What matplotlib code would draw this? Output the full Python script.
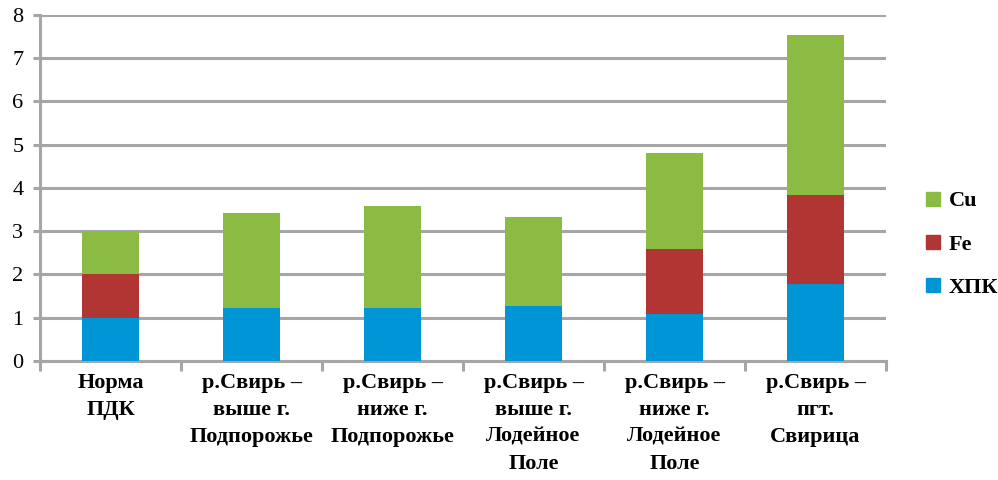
import numpy as np
import matplotlib
matplotlib.use('Agg')
import matplotlib.pyplot as plt
import matplotlib.font_manager as fm
from matplotlib.patches import Patch


def serif_file(weight):
    for f in fm.fontManager.ttflist:
        if f.name == 'Liberation Serif' and f.style == 'normal' and f.weight == weight:
            return f.fname
    return None


reg_path = serif_file(400)
bold_path = serif_file(700)

categories = ['Норма\nПДК',
              'р.Свирь –\nвыше г.\nПодпорожье',
              'р.Свирь –\nниже г.\nПодпорожье',
              'р.Свирь –\nвыше г.\nЛодейное\nПоле',
              'р.Свирь –\nниже г.\nЛодейное\nПоле',
              'р.Свирь –\nпгт.\nСвирица']
hpk = [1.0, 1.22, 1.22, 1.27, 1.09, 1.78]
fe = [1.0, 0.0, 0.0, 0.0, 1.50, 2.06]
cu = [1.0, 2.20, 2.36, 2.06, 2.22, 3.70]

c_hpk = '#0096D6'
c_fe = '#B03533'
c_cu = '#8BBB42'
grid_c = '#A6A6A6'

fp_tick = fm.FontProperties(fname=reg_path, size=16)
fp_cat = fm.FontProperties(fname=bold_path, size=16)
fp_leg = fm.FontProperties(fname=bold_path, size=16)

fig = plt.figure(figsize=(9.98, 4.8), dpi=100)
ax = fig.add_axes([0.0401, 0.248, 0.8477, 0.721])

x = np.arange(len(categories))
w = 0.40
ax.bar(x, hpk, w, color=c_hpk, zorder=3)
ax.bar(x, fe, w, bottom=hpk, color=c_fe, zorder=3)
bottom2 = np.array(hpk) + np.array(fe)
ax.bar(x, cu, w, bottom=bottom2, color=c_cu, zorder=3)

ax.set_xlim(-0.5, len(categories) - 0.5)
ax.set_ylim(0, 8)
ax.set_yticks(range(0, 9))
ax.set_yticklabels([str(v) for v in range(0, 9)], fontproperties=fp_tick)
ax.yaxis.grid(True, color=grid_c, linewidth=2.2, zorder=0)

for s in ['top', 'right']:
    ax.spines[s].set_visible(False)
for s in ['left', 'bottom']:
    ax.spines[s].set_color(grid_c)
    ax.spines[s].set_linewidth(2.2)

ax.tick_params(axis='y', colors=grid_c, length=5, width=2.2, labelcolor='black', pad=7)

# category boundary ticks on x, labels in the middle
ax.set_xticks(np.arange(-0.5, len(categories)), minor=False)
ax.set_xticklabels([])
ax.set_xticks(x, minor=True)
ax.set_xticklabels(categories, minor=True, fontproperties=fp_cat, linespacing=1.45)
ax.tick_params(axis='x', which='major', colors=grid_c, length=7, width=2.2)
ax.tick_params(axis='x', which='minor', length=0, pad=9, labelcolor='black')

handles = [Patch(color=c_cu, label='Cu'),
           Patch(color=c_fe, label='Fe'),
           Patch(color=c_hpk, label='ХПК')]
fig.legend(handles=handles, loc='center left', bbox_to_anchor=(0.908, 0.49),
           frameon=False, prop=fp_leg,
           handlelength=0.6, handleheight=0.6, handletextpad=0.4,
           labelspacing=1.05)

fig.savefig('out.png', dpi=100)
